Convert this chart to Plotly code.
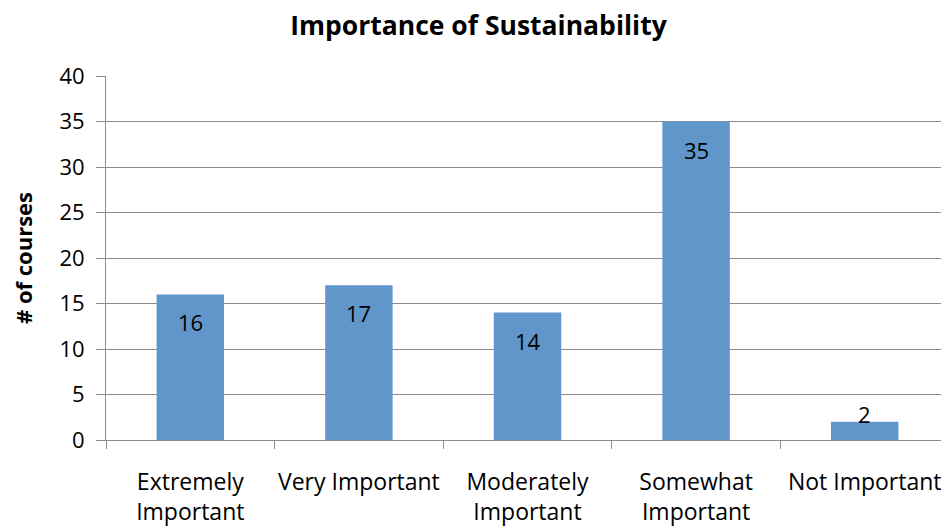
import plotly.graph_objects as go

categories = ["Extremely<br>Important", "Very Important", "Moderately<br>Important",
              "Somewhat<br>Important", "Not Important"]
courses = [16, 17, 14, 35, 2]
y_ticks = [0, 5, 10, 15, 20, 25, 30, 35, 40]

FONT = "'Open Sans', Lato, sans-serif"
GRID = "#8c8c8c"

fig = go.Figure()
fig.add_trace(go.Bar(x=categories, y=courses, width=0.4,
                     marker=dict(color="#6096c9", line=dict(width=0))))

# data labels, Excel "inside end" style
for cat, val in zip(categories, courses):
    tall = val > 4
    fig.add_annotation(x=cat, y=val, text=str(val), showarrow=False,
                       yanchor="top" if tall else "bottom",
                       yshift=-11 if tall else -9,
                       font=dict(family=FONT, size=22, color="black"))

# page body has an 8px margin, so the figure is shifted by 8px
fig.update_layout(
    width=941, height=523,
    margin=dict(l=98, r=0, t=68, b=91),
    paper_bgcolor="white", plot_bgcolor="white",
    showlegend=False,
    font=dict(family=FONT, size=22, color="black"),
    title=dict(text="<b>Importance of Sustainability</b>", x=0.5, xanchor="center",
               y=0.966, yanchor="middle", font=dict(family=FONT, size=26.5)),
)
fig.update_yaxes(range=[0, 40], tickvals=y_ticks, showgrid=True, gridcolor=GRID, gridwidth=1,
                 showline=True, linecolor=GRID, linewidth=1, ticks="outside", ticklen=9,
                 tickcolor=GRID, zeroline=False, ticklabelstandoff=7,
                 tickfont=dict(size=22),
                 title=dict(text="<b># of courses</b>", standoff=28, font=dict(size=22)))
fig.update_xaxes(range=[-0.5, 4.5], showline=True, linecolor=GRID, linewidth=1,
                 ticks="outside", ticklen=8, tickcolor=GRID, tickson="boundaries",
                 tickangle=0, automargin=False,
                 tickfont=dict(size=23), ticklabelstandoff=21)

fig.write_html("out.html")
